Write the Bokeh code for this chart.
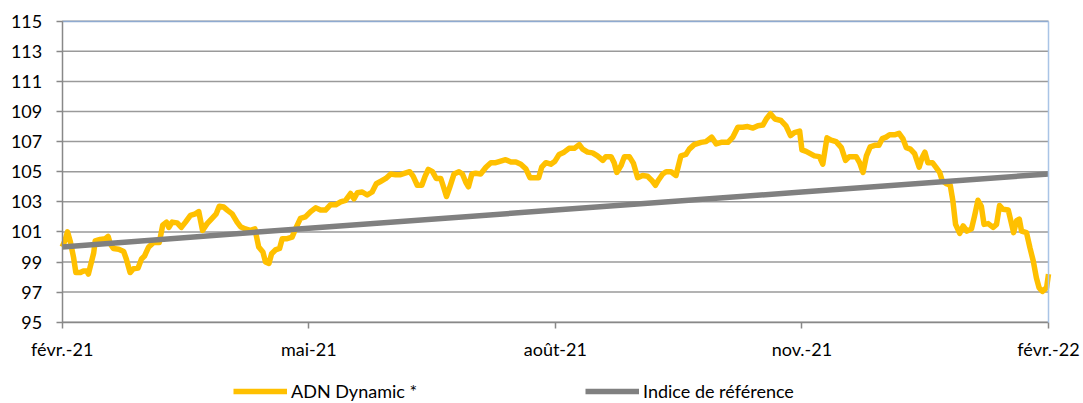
from bokeh.plotting import figure
from bokeh.models import Range1d, FixedTicker, Legend, LegendItem, LinearAxis
from bokeh.embed import file_html
from bokeh.resources import INLINE

# Trading-day index (0 = févr.-21, 260 = févr.-22) and fund values
fund_day = [0, 0.7, 1.4, 2.1, 3.0, 3.6, 4.8, 5.6, 6.5, 6.9, 7.7, 8.3, 8.7, 10.0, 11.4, 12.1,
            12.7, 13.5, 14.9, 16.2, 16.9, 17.9, 18.8, 20.0, 20.9, 21.7, 22.8, 24.1, 25.6, 26.5,
            27.5, 28.1, 29.0, 30.3, 31.4, 32.5, 33.8, 35.1, 36.0, 37.0, 38.2, 39.5, 40.6, 41.4,
            42.6, 43.5, 44.8, 46.1, 47.0, 48.3, 49.6, 50.8, 51.8, 52.9, 53.6, 54.5, 55.2, 56.2,
            57.3, 58.0, 59.3, 60.6, 61.5, 62.8, 64.1, 65.5, 66.8, 68.1, 69.4, 70.7, 72.1, 73.4,
            74.7, 76.0, 76.9, 77.8, 79.1, 80.4, 81.7, 82.8, 83.9, 85.3, 86.6, 87.9, 89.2, 90.4,
            91.6, 92.5, 93.6, 94.8, 95.6, 96.5, 97.6, 98.6, 99.8, 100.5, 101.3, 102.2, 103.3,
            104.6, 105.5, 106.4, 107.1, 108.0, 109.0, 110.3, 111.7, 113.0, 114.3, 115.6, 116.9,
            118.3, 119.6, 120.9, 122.2, 123.3, 124.4, 125.6, 126.4, 127.5, 128.8, 129.9, 131.0,
            132.3, 133.6, 135.0, 136.3, 137.2, 138.5, 139.8, 141.1, 142.5, 143.3, 144.7, 145.5,
            146.2, 147.3, 148.2, 149.5, 150.6, 151.7, 153.0, 154.3, 155.5, 156.4, 157.2, 158.3,
            159.2, 160.5, 161.8, 163.1, 164.4, 165.3, 166.6, 168.4, 169.7, 171.2, 172.4, 173.7,
            175.5, 176.8, 178.1, 179.4, 180.7, 182.1, 183.4, 184.7, 185.6, 186.7, 187.9, 189.5,
            190.8, 192.0, 193.0, 194.4, 195.0, 196.1, 197.2, 198.3, 199.6, 200.5, 201.6, 202.7,
            204.0, 205.4, 206.5, 207.5, 209.3, 210.2, 211.1, 212.0, 213.0, 214.2, 215.3, 216.2,
            217.2, 218.1, 219.4, 220.6, 221.6, 222.5, 223.6, 224.7, 225.9, 226.7, 227.4, 228.2,
            229.4, 230.3, 231.3, 232.0, 233.1, 234.1, 234.8, 235.5, 236.6, 237.5, 238.5, 239.7,
            240.5, 241.4, 242.3, 243.0, 244.1, 245.4, 246.3, 247.1, 248.0, 249.4, 250.2, 250.8,
            251.6, 252.3, 252.9, 254.2, 255.1, 256.0, 256.8, 257.5, 258.4, 259.5, 260.0]

fund_value = [100.0, 100.4, 101.0, 100.4, 99.3, 98.3, 98.3, 98.4, 98.4, 98.2, 99.0, 99.6, 100.4,
              100.5, 100.55, 100.7, 100.2, 99.9, 99.85, 99.7, 99.2, 98.3, 98.55, 98.6, 99.2, 99.4,
              100.0, 100.3, 100.3, 101.45, 101.65, 101.3, 101.65, 101.6, 101.3, 101.65, 102.1,
              102.2, 102.35, 101.1, 101.55, 101.9, 102.2, 102.7, 102.65, 102.45, 102.2, 101.65,
              101.35, 101.2, 101.1, 101.2, 100.0, 99.67, 99.0, 98.9, 99.55, 99.8, 99.9, 100.55,
              100.55, 100.65, 101.2, 101.9, 102.0, 102.35, 102.6, 102.45, 102.45, 102.8, 102.8,
              103.0, 103.1, 103.55, 103.2, 103.6, 103.65, 103.45, 103.65, 104.2, 104.35, 104.55,
              104.85, 104.8, 104.8, 104.9, 105.0, 104.7, 104.1, 104.1, 104.65, 105.15, 105.0,
              104.55, 104.55, 104.0, 103.35, 104.0, 104.85, 105.0, 104.85, 104.3, 104.0, 104.85,
              104.9, 104.85, 105.3, 105.6, 105.6, 105.7, 105.8, 105.65, 105.65, 105.5, 105.2,
              104.6, 104.6, 104.6, 105.3, 105.6, 105.5, 105.7, 106.15, 106.3, 106.55, 106.55,
              106.8, 106.5, 106.3, 106.25, 106.05, 105.75, 106.0, 106.0, 105.6, 104.95, 105.4,
              106.0, 106.0, 105.55, 104.6, 104.75, 104.7, 104.4, 104.1, 104.45, 104.85, 105.0,
              105.0, 104.75, 106.05, 106.15, 106.5, 106.8, 106.95, 107.0, 107.3, 106.85, 106.95,
              106.95, 107.3, 107.95, 107.95, 108.0, 107.9, 108.05, 108.1, 108.5, 108.85, 108.5,
              108.4, 108.05, 107.4, 107.6, 107.7, 106.45, 106.35, 106.2, 106.05, 106.0, 105.5,
              107.25, 107.1, 107.0, 106.6, 105.75, 106.0, 106.0, 105.6, 104.95, 106.05, 106.65,
              106.75, 106.75, 107.2, 107.3, 107.45, 107.45, 107.55, 107.2, 106.6, 106.5, 106.2,
              105.3, 105.95, 106.3, 105.6, 105.6, 105.3, 104.95, 104.4, 104.2, 104.1, 103.05,
              101.5, 100.9, 101.4, 101.05, 101.2, 102.05, 103.1, 102.7, 101.5, 101.55, 101.3,
              101.5, 102.75, 102.5, 102.45, 101.6, 100.95, 101.75, 101.85, 101.05, 100.95, 99.95,
              99.05, 97.95, 97.3, 97.05, 97.3, 98.2]

bench_day = [0, 65, 130, 195, 260]
bench_value = [100.0, 101.25, 102.45, 103.65, 104.85]

tick_days = [0, 65, 130, 195, 260]
tick_labels = ["févr.-21", "mai-21", "août-21", "nov.-21", "févr.-22"]
y_ticks = [95, 97, 99, 101, 103, 105, 107, 109, 111, 113, 115]

FONT = "Lato"
W, H = 1083, 403
# pixel box of the plotting area inside the canvas (layout only)
PX_L, PX_R, PX_T, PX_B = 61.7, 1048.0, 20.7, 321.7
X0, X1 = tick_days[0], tick_days[-1]
Y0, Y1 = y_ticks[0], y_ticks[-1]
# the frame covers the whole canvas so that the axes (fixed in data space)
# and the legend underneath are never clipped
sx = (X1 - X0) / (PX_R - PX_L)
sy = (Y1 - Y0) / (PX_B - PX_T)
x_range = Range1d(X0 - PX_L * sx, X1 + (W - PX_R) * sx)
y_range = Range1d(Y0 - (H - PX_B) * sy, Y1 + PX_T * sy)

p = figure(width=W, height=H, output_backend="svg", toolbar_location=None,
           x_range=x_range, y_range=y_range,
           min_border_left=0, min_border_right=0, min_border_top=0, min_border_bottom=0)
p.background_fill_color = "white"
p.border_fill_color = "white"
p.outline_line_color = None
p.xgrid.grid_line_color = None
p.ygrid.grid_line_color = None

# horizontal gridlines limited to the plotting area
p.segment(x0=[X0] * len(y_ticks), x1=[X1] * len(y_ticks), y0=y_ticks, y1=y_ticks,
          line_color="#9A9A9A", line_width=1.5)

p.yaxis.ticker = FixedTicker(ticks=y_ticks)
p.yaxis.bounds = (Y0, Y1)
p.yaxis.fixed_location = X0
p.xaxis.ticker = FixedTicker(ticks=tick_days)
p.xaxis.bounds = (X0, X1)
p.xaxis.major_label_overrides = {d: lab for d, lab in zip(tick_days, tick_labels)}
p.xaxis.fixed_location = Y0

for ax in (p.xaxis[0], p.yaxis[0]):
    ax.axis_line_color = "#888888"
    ax.axis_line_width = 1.5
    ax.major_tick_line_color = "#888888"
    ax.major_tick_line_width = 1.5
    ax.major_tick_in = 0
    ax.major_tick_out = 6
    ax.minor_tick_line_color = None
    ax.major_label_text_font = FONT
    ax.major_label_text_font_size = "18px"
    ax.major_label_text_color = "#000000"
p.xaxis.major_label_standoff = 10
p.yaxis.major_label_standoff = 14

# light-blue plot-area border on top and right
top_border = LinearAxis(fixed_location=Y1, bounds=(X0, X1), ticker=FixedTicker(ticks=[]),
                        axis_line_color="#8FAAD0", axis_line_width=1.5,
                        major_tick_line_color=None, minor_tick_line_color=None)
p.add_layout(top_border, "above")
right_border = LinearAxis(fixed_location=X1, bounds=(Y0, Y1), ticker=FixedTicker(ticks=[]),
                          axis_line_color="#A9C4E6", axis_line_width=1.5,
                          major_tick_line_color=None, minor_tick_line_color=None)
p.add_layout(right_border, "right")

r_fund = p.line(fund_day, fund_value, line_color="#FFC000", line_width=5.5, line_join="round")
r_bench = p.line(bench_day, bench_value, line_color="#808080", line_width=5.5)

legend = Legend(items=[LegendItem(label="ADN Dynamic *", renderers=[r_fund]),
                       LegendItem(label="Indice de référence", renderers=[r_bench])],
                location=(233, 1), orientation="horizontal",
                padding=0, margin=0, spacing=60,
                glyph_width=54, glyph_height=16, label_height=16, label_width=234,
                label_standoff=4,
                label_text_font=FONT, label_text_font_size="18px", label_text_color="#000000",
                background_fill_alpha=0, border_line_color=None)
p.add_layout(legend, "center")

open("out.html", "w").write(file_html(p, INLINE))
